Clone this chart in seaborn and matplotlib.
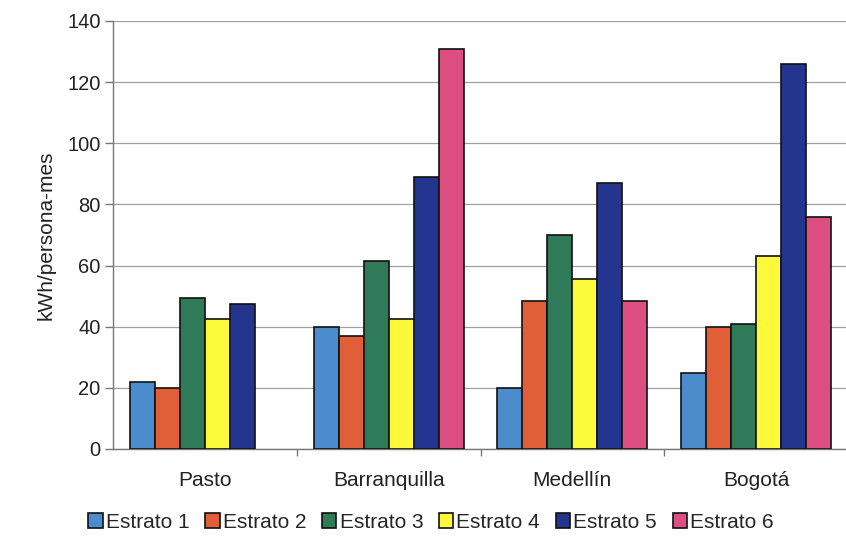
import numpy as np
import pandas as pd
import matplotlib
matplotlib.use("Agg")
import matplotlib.pyplot as plt
import seaborn as sns

# Consumo de energía por persona, por ciudad y estrato
ciudades = ["Pasto", "Barranquilla", "Medellín", "Bogotá"]
estratos = ["Estrato 1", "Estrato 2", "Estrato 3", "Estrato 4", "Estrato 5", "Estrato 6"]
estrato_1 = [22, 40, 20, 25]
estrato_2 = [20, 37, 48.5, 40]
estrato_3 = [49.5, 61.5, 70, 41]
estrato_4 = [42.5, 42.5, 55.5, 63]
estrato_5 = [47.5, 89, 87, 126]
estrato_6 = [np.nan, 131, 48.5, 76]
y_ticks = [0, 20, 40, 60, 80, 100, 120, 140]

colores = ["#4a8ccc", "#e05f38", "#2f7a58", "#fcf83a", "#23358f", "#dd4f80"]

series = [estrato_1, estrato_2, estrato_3, estrato_4, estrato_5, estrato_6]
filas = []
for est, vals in zip(estratos, series):
    for c, v in zip(ciudades, vals):
        filas.append({"Ciudad": c, "Estrato": est, "valor": v})
df = pd.DataFrame(filas)

sns.set_theme(style="white")
plt.rcParams["font.family"] = ["Liberation Sans", "DejaVu Sans"]

fig = plt.figure(figsize=(8.46, 5.37), dpi=100)
ax = fig.add_axes([113 / 846, 88 / 537, 735 / 846, 428 / 537])

sns.barplot(data=df, x="Ciudad", y="valor", hue="Estrato", order=ciudades,
            hue_order=estratos, palette=colores, width=0.815,
            edgecolor="#111111", linewidth=1.2, saturation=1, ax=ax, zorder=3)

ax.set_ylim(0, 140)
ax.set_xlim(-0.5, 3.5)
ax.set_yticks(y_ticks)
ax.yaxis.grid(True, color="#a0a0a0", linewidth=0.9, zorder=0)
ax.set_axisbelow(True)

for s in ["top", "right"]:
    ax.spines[s].set_visible(False)
for s in ["left", "bottom"]:
    ax.spines[s].set_color("#777777")
    ax.spines[s].set_linewidth(1.0)

ax.tick_params(axis="y", which="major", left=True, length=6, width=1.0,
               color="#777777", labelsize=14.5, pad=3, labelcolor="#222222")
ax.tick_params(axis="x", which="major", bottom=False, labelsize=15, pad=10,
               labelcolor="#222222")
ax.set_xticks([0.5, 1.5, 2.5], minor=True)
ax.tick_params(axis="x", which="minor", bottom=True, length=5, width=1.0,
               color="#777777")

ax.set_xlabel("")
ax.set_ylabel("kWh/persona-mes", fontsize=15, color="#222222", labelpad=8)

ax.legend_.remove()
handles, labels = ax.get_legend_handles_labels()
fig.legend(handles, labels, loc="center", bbox_to_anchor=(431 / 846, 1 - 522 / 537),
           ncol=6, frameon=False, fontsize=15, handlelength=0.7, handleheight=0.7,
           handletextpad=0.15, columnspacing=0.75, borderaxespad=0)

fig.savefig("out.png", dpi=100)
